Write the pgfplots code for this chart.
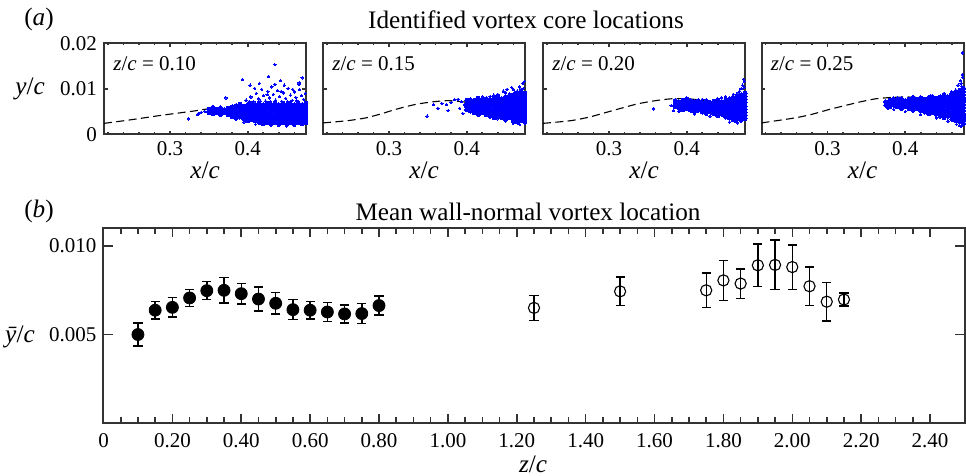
\documentclass[border=0pt]{standalone}
\usepackage{fontspec}
\setmainfont{Liberation Serif}
\usepackage{pgfplots}
\pgfplotsset{compat=1.18}
\definecolor{scat}{RGB}{0,0,255}
\pgfplotsset{
  basebox/.style={scale only axis, anchor=north west,
    axis line style={line width=1pt, black!80},
    tick align=inside, tick style={line width=0.8pt, black!80},
    /pgf/number format/assume math mode=true,
    ticklabel style={font=\fontsize{10.5}{12}\selectfont},
    scaled ticks=false},
  toppanel/.style={basebox, width=101pt, height=45.5pt,
    xmin=0.215, xmax=0.475, ymin=0, ymax=0.02,
    xtick={0.3,0.4}, xticklabels={0.3,0.4},
    minor xtick={0.22,0.24,0.26,0.28,0.32,0.34,0.36,0.38,0.42,0.44,0.46},
    ytick={0,0.01,0.02}, yticklabels={},
    major tick length=1.8pt, minor tick length=1.1pt},
  dense/.style={only marks, mark=*, mark size=1.0pt, scat, mark options={draw=scat, fill=scat, line width=0pt}},
  sparse/.style={only marks, mark=*, mark size=0.6pt, scat, mark options={draw=scat, fill=scat, line width=0pt}},
  guide/.style={black, line width=0.55pt, dash pattern=on 4pt off 2.2pt, smooth, tension=0.4},
}
\newcommand{\plab}[1]{\node[anchor=west, inner sep=0pt, font=\fontsize{10.5}{12}\selectfont] at (rel axis cs:0.045,0.78) {\textit{z}/\textit{c} = #1};}
\begin{document}
\begin{tikzpicture}
\useasboundingbox (0,0) rectangle (483pt,-238pt);
% ---------------- panel 1 ----------------
\begin{axis}[toppanel, at={(52pt,-21.65pt)}, yticklabels={0,0.01,0.02}]
\addplot[dense] coordinates {
(0.350,0.0048)(0.350,0.0055)(0.355,0.0045)(0.355,0.0052)(0.355,0.0059)
(0.360,0.0048)(0.360,0.0055)(0.365,0.0044)(0.365,0.0051)(0.365,0.0058)
(0.370,0.0047)(0.370,0.0054)(0.375,0.0043)(0.375,0.0050)(0.375,0.0057)
(0.380,0.0039)(0.380,0.0046)(0.380,0.0053)(0.380,0.0060)
(0.385,0.0035)(0.385,0.0042)(0.385,0.0049)(0.385,0.0056)(0.385,0.0063)
(0.390,0.0038)(0.390,0.0045)(0.390,0.0052)(0.390,0.0059)(0.390,0.0066)
(0.395,0.0034)(0.395,0.0041)(0.395,0.0048)(0.395,0.0055)(0.395,0.0062)
(0.400,0.0030)(0.400,0.0037)(0.400,0.0044)(0.400,0.0051)(0.400,0.0058)(0.400,0.0065)
(0.405,0.0033)(0.405,0.0040)(0.405,0.0047)(0.405,0.0054)(0.405,0.0061)(0.405,0.0068)
(0.410,0.0029)(0.410,0.0036)(0.410,0.0043)(0.410,0.0050)(0.410,0.0057)(0.410,0.0064)
(0.415,0.0026)(0.415,0.0033)(0.415,0.0040)(0.415,0.0047)(0.415,0.0054)(0.415,0.0061)(0.415,0.0068)
(0.420,0.0023)(0.420,0.0030)(0.420,0.0037)(0.420,0.0044)(0.420,0.0051)(0.420,0.0058)(0.420,0.0065)
(0.425,0.0026)(0.425,0.0033)(0.425,0.0040)(0.425,0.0047)(0.425,0.0054)(0.425,0.0061)(0.425,0.0068)
(0.430,0.0023)(0.430,0.0030)(0.430,0.0037)(0.430,0.0044)(0.430,0.0051)(0.430,0.0058)(0.430,0.0065)
(0.435,0.0026)(0.435,0.0033)(0.435,0.0040)(0.435,0.0047)(0.435,0.0054)(0.435,0.0061)(0.435,0.0068)
(0.440,0.0023)(0.440,0.0030)(0.440,0.0037)(0.440,0.0044)(0.440,0.0051)(0.440,0.0058)(0.440,0.0065)
(0.445,0.0026)(0.445,0.0033)(0.445,0.0040)(0.445,0.0047)(0.445,0.0054)(0.445,0.0061)(0.445,0.0068)
(0.450,0.0023)(0.450,0.0030)(0.450,0.0037)(0.450,0.0044)(0.450,0.0051)(0.450,0.0058)(0.450,0.0065)
(0.455,0.0026)(0.455,0.0033)(0.455,0.0040)(0.455,0.0047)(0.455,0.0054)(0.455,0.0061)(0.455,0.0068)
(0.460,0.0023)(0.460,0.0030)(0.460,0.0037)(0.460,0.0044)(0.460,0.0051)(0.460,0.0058)(0.460,0.0065)
(0.465,0.0026)(0.465,0.0033)(0.465,0.0040)(0.465,0.0047)(0.465,0.0054)(0.465,0.0061)(0.465,0.0068)
(0.470,0.0023)(0.470,0.0030)(0.470,0.0037)(0.470,0.0044)(0.470,0.0051)(0.470,0.0058)(0.470,0.0065)
(0.475,0.0026)(0.475,0.0033)(0.475,0.0040)(0.475,0.0047)(0.475,0.0054)(0.475,0.0061)(0.475,0.0068)
};
\addplot[sparse] coordinates {
(0.324,0.0034)(0.335,0.0043)(0.337,0.0046)(0.340,0.0048)(0.345,0.0050)(0.372,0.0080)
(0.398,0.0075)(0.404,0.0082)(0.408,0.0071)(0.411,0.0090)(0.414,0.0078)(0.418,0.0099)
(0.420,0.0085)(0.423,0.0073)(0.426,0.0094)(0.428,0.0080)(0.431,0.0104)(0.433,0.0088)
(0.436,0.0075)(0.438,0.0096)(0.441,0.0083)(0.444,0.0072)(0.446,0.0091)(0.449,0.0079)
(0.452,0.0101)(0.455,0.0086)(0.457,0.0074)(0.460,0.0093)(0.462,0.0081)(0.465,0.0072)
(0.467,0.0098)(0.469,0.0085)(0.472,0.0077)(0.474,0.0090)(0.403,0.0108)(0.415,0.0112)
(0.447,0.0108)(0.466,0.0109)(0.409,0.0101)(0.435,0.0110)(0.458,0.0099)(0.402,0.0072)
(0.416,0.0073)(0.429,0.0071)(0.451,0.0071)(0.463,0.0074)(0.425,0.0087)(0.443,0.0094)
(0.435,0.0153)(0.393,0.0120)(0.427,0.0127)(0.470,0.0124)(0.442,0.0118)(0.466,0.0113)
(0.430,0.0019)(0.450,0.0018)(0.460,0.0019)(0.395,0.0027)(0.410,0.0022)(0.440,0.0019)
};
\addplot[guide] coordinates {(0.215,0.0024)(0.25,0.0032)(0.29,0.0042)(0.33,0.0051)(0.345,0.0055)(0.355,0.0057)(0.365,0.0057)(0.375,0.0055)(0.40,0.0048)(0.44,0.0038)(0.475,0.0030)};
\plab{0.10}
\end{axis}
% ---------------- panel 2 ----------------
\begin{axis}[toppanel, at={(161.5pt,-21.65pt)}]
\addplot[dense] coordinates {
(0.400,0.0054)(0.400,0.0061)(0.400,0.0068)(0.400,0.0075)
(0.405,0.0051)(0.405,0.0058)(0.405,0.0065)(0.405,0.0072)
(0.410,0.0047)(0.410,0.0054)(0.410,0.0061)(0.410,0.0068)(0.410,0.0075)
(0.415,0.0044)(0.415,0.0051)(0.415,0.0058)(0.415,0.0065)(0.415,0.0072)(0.415,0.0079)
(0.420,0.0047)(0.420,0.0054)(0.420,0.0061)(0.420,0.0068)(0.420,0.0075)
(0.425,0.0043)(0.425,0.0050)(0.425,0.0057)(0.425,0.0064)(0.425,0.0071)(0.425,0.0078)
(0.430,0.0040)(0.430,0.0047)(0.430,0.0054)(0.430,0.0061)(0.430,0.0068)(0.430,0.0075)
(0.435,0.0037)(0.435,0.0044)(0.435,0.0051)(0.435,0.0058)(0.435,0.0065)(0.435,0.0072)(0.435,0.0079)
(0.440,0.0040)(0.440,0.0047)(0.440,0.0054)(0.440,0.0061)(0.440,0.0068)(0.440,0.0075)(0.440,0.0082)
(0.445,0.0036)(0.445,0.0043)(0.445,0.0050)(0.445,0.0057)(0.445,0.0064)(0.445,0.0071)(0.445,0.0078)
(0.450,0.0033)(0.450,0.0040)(0.450,0.0047)(0.450,0.0054)(0.450,0.0061)(0.450,0.0068)(0.450,0.0075)(0.450,0.0082)
(0.455,0.0036)(0.455,0.0043)(0.455,0.0050)(0.455,0.0057)(0.455,0.0064)(0.455,0.0071)(0.455,0.0078)(0.455,0.0085)
(0.460,0.0030)(0.460,0.0037)(0.460,0.0044)(0.460,0.0051)(0.460,0.0058)(0.460,0.0065)(0.460,0.0072)(0.460,0.0079)(0.460,0.0086)
(0.465,0.0027)(0.465,0.0034)(0.465,0.0041)(0.465,0.0048)(0.465,0.0055)(0.465,0.0062)(0.465,0.0069)(0.465,0.0076)(0.465,0.0083)(0.465,0.0090)
(0.470,0.0030)(0.470,0.0037)(0.470,0.0044)(0.470,0.0051)(0.470,0.0058)(0.470,0.0065)(0.470,0.0072)(0.470,0.0079)(0.470,0.0086)(0.470,0.0093)
(0.475,0.0027)(0.475,0.0034)(0.475,0.0041)(0.475,0.0048)(0.475,0.0055)(0.475,0.0062)(0.475,0.0069)(0.475,0.0076)(0.475,0.0083)(0.475,0.0090)
};
\addplot[sparse] coordinates {
(0.349,0.0040)(0.357,0.0065)(0.363,0.0057)(0.374,0.0065)(0.376,0.0052)(0.384,0.0076)
(0.389,0.0077)(0.391,0.0057)(0.395,0.0046)(0.397,0.0065)(0.380,0.0070)(0.368,0.0068)
(0.393,0.0072)(0.440,0.0088)(0.450,0.0092)(0.455,0.0089)(0.460,0.0098)(0.465,0.0095)
(0.468,0.0104)(0.472,0.0112)(0.470,0.0099)(0.462,0.0092)(0.447,0.0095)(0.435,0.0086)
(0.474,0.0116)(0.473,0.0101)(0.458,0.0103)(0.452,0.0099)(0.460,0.0024)(0.468,0.0022)
(0.450,0.0029)(0.440,0.0034)(0.405,0.0078)(0.420,0.0082)(0.430,0.0083)
};
\addplot[guide] coordinates {(0.215,0.0025)(0.247,0.0030)(0.27,0.0036)(0.29,0.0045)(0.305,0.0053)(0.32,0.0060)(0.335,0.0066)(0.346,0.0069)(0.36,0.0072)(0.376,0.0074)(0.397,0.0071)(0.41,0.0066)(0.427,0.0057)(0.45,0.0047)(0.475,0.0037)};
\plab{0.15}
\end{axis}
% ---------------- panel 3 ----------------
\begin{axis}[toppanel, at={(271.5pt,-21.65pt)}]
\addplot[dense] coordinates {
(0.385,0.0060)(0.385,0.0067)(0.385,0.0074)
(0.390,0.0057)(0.390,0.0064)(0.390,0.0071)
(0.395,0.0054)(0.395,0.0061)(0.395,0.0068)(0.395,0.0075)
(0.400,0.0057)(0.400,0.0064)(0.400,0.0071)(0.400,0.0078)
(0.405,0.0053)(0.405,0.0060)(0.405,0.0067)(0.405,0.0074)
(0.410,0.0050)(0.410,0.0057)(0.410,0.0064)(0.410,0.0071)
(0.415,0.0053)(0.415,0.0060)(0.415,0.0067)(0.415,0.0074)
(0.420,0.0049)(0.420,0.0056)(0.420,0.0063)(0.420,0.0070)
(0.425,0.0046)(0.425,0.0053)(0.425,0.0060)(0.425,0.0067)(0.425,0.0074)
(0.430,0.0049)(0.430,0.0056)(0.430,0.0063)(0.430,0.0070)
(0.435,0.0045)(0.435,0.0052)(0.435,0.0059)(0.435,0.0066)(0.435,0.0073)
(0.440,0.0041)(0.440,0.0048)(0.440,0.0055)(0.440,0.0062)(0.440,0.0069)(0.440,0.0076)
(0.445,0.0044)(0.445,0.0051)(0.445,0.0058)(0.445,0.0065)(0.445,0.0072)
(0.450,0.0040)(0.450,0.0047)(0.450,0.0054)(0.450,0.0061)(0.450,0.0068)(0.450,0.0075)
(0.455,0.0036)(0.455,0.0043)(0.455,0.0050)(0.455,0.0057)(0.455,0.0064)(0.455,0.0071)(0.455,0.0078)
(0.460,0.0032)(0.460,0.0039)(0.460,0.0046)(0.460,0.0053)(0.460,0.0060)(0.460,0.0067)(0.460,0.0074)(0.460,0.0081)
(0.465,0.0035)(0.465,0.0042)(0.465,0.0049)(0.465,0.0056)(0.465,0.0063)(0.465,0.0070)(0.465,0.0077)(0.465,0.0084)
(0.470,0.0031)(0.470,0.0038)(0.470,0.0045)(0.470,0.0052)(0.470,0.0059)(0.470,0.0066)(0.470,0.0073)(0.470,0.0080)(0.470,0.0087)
(0.475,0.0034)(0.475,0.0041)(0.475,0.0048)(0.475,0.0055)(0.475,0.0062)(0.475,0.0069)(0.475,0.0076)(0.475,0.0083)(0.475,0.0090)
};
\addplot[sparse] coordinates {
(0.357,0.0056)(0.380,0.0063)(0.383,0.0052)(0.390,0.0050)(0.410,0.0045)(0.430,0.0040)
(0.450,0.0036)(0.466,0.0091)(0.470,0.0100)(0.472,0.0108)(0.474,0.0116)(0.468,0.0095)
(0.473,0.0121)(0.460,0.0088)(0.450,0.0082)(0.455,0.0027)(0.465,0.0025)(0.470,0.0029)
(0.445,0.0080)(0.420,0.0077)(0.462,0.0029)(0.474,0.0103)
};
\addplot[guide] coordinates {(0.215,0.0024)(0.251,0.0030)(0.275,0.0038)(0.294,0.0047)(0.315,0.0057)(0.337,0.0067)(0.36,0.0074)(0.380,0.0078)(0.401,0.0078)(0.42,0.0075)(0.431,0.0071)(0.45,0.0062)(0.465,0.0054)(0.475,0.0048)};
\plab{0.20}
\end{axis}
% ---------------- panel 4 ----------------
\begin{axis}[toppanel, at={(380.75pt,-21.65pt)}]
\addplot[dense] coordinates {
(0.375,0.0064)(0.375,0.0071)
(0.380,0.0061)(0.380,0.0068)(0.380,0.0075)
(0.385,0.0064)(0.385,0.0071)(0.385,0.0078)
(0.390,0.0060)(0.390,0.0067)(0.390,0.0074)
(0.395,0.0057)(0.395,0.0064)(0.395,0.0071)(0.395,0.0078)
(0.400,0.0060)(0.400,0.0067)(0.400,0.0074)
(0.405,0.0056)(0.405,0.0063)(0.405,0.0070)(0.405,0.0077)
(0.410,0.0053)(0.410,0.0060)(0.410,0.0067)(0.410,0.0074)(0.410,0.0081)
(0.415,0.0056)(0.415,0.0063)(0.415,0.0070)(0.415,0.0077)
(0.420,0.0052)(0.420,0.0059)(0.420,0.0066)(0.420,0.0073)(0.420,0.0080)
(0.425,0.0049)(0.425,0.0056)(0.425,0.0063)(0.425,0.0070)(0.425,0.0077)
(0.430,0.0045)(0.430,0.0052)(0.430,0.0059)(0.430,0.0066)(0.430,0.0073)(0.430,0.0080)
(0.435,0.0048)(0.435,0.0055)(0.435,0.0062)(0.435,0.0069)(0.435,0.0076)(0.435,0.0083)
(0.440,0.0044)(0.440,0.0051)(0.440,0.0058)(0.440,0.0065)(0.440,0.0072)(0.440,0.0079)
(0.445,0.0040)(0.445,0.0047)(0.445,0.0054)(0.445,0.0061)(0.445,0.0068)(0.445,0.0075)(0.445,0.0082)
(0.450,0.0037)(0.450,0.0044)(0.450,0.0051)(0.450,0.0058)(0.450,0.0065)(0.450,0.0072)(0.450,0.0079)(0.450,0.0086)
(0.455,0.0040)(0.455,0.0047)(0.455,0.0054)(0.455,0.0061)(0.455,0.0068)(0.455,0.0075)(0.455,0.0082)
(0.460,0.0033)(0.460,0.0040)(0.460,0.0047)(0.460,0.0054)(0.460,0.0061)(0.460,0.0068)(0.460,0.0075)(0.460,0.0082)(0.460,0.0089)
(0.465,0.0030)(0.465,0.0037)(0.465,0.0044)(0.465,0.0051)(0.465,0.0058)(0.465,0.0065)(0.465,0.0072)(0.465,0.0079)(0.465,0.0086)(0.465,0.0093)
(0.470,0.0027)(0.470,0.0034)(0.470,0.0041)(0.470,0.0048)(0.470,0.0055)(0.470,0.0062)(0.470,0.0069)(0.470,0.0076)(0.470,0.0083)(0.470,0.0090)(0.470,0.0097)
(0.475,0.0024)(0.475,0.0031)(0.475,0.0038)(0.475,0.0045)(0.475,0.0052)(0.475,0.0059)(0.475,0.0066)(0.475,0.0073)(0.475,0.0080)(0.475,0.0087)(0.475,0.0094)(0.475,0.0101)
};
\addplot[sparse] coordinates {
(0.378,0.0057)(0.385,0.0055)(0.400,0.0050)(0.420,0.0043)(0.440,0.0036)(0.455,0.0029)
(0.466,0.0022)(0.470,0.0019)(0.473,0.0105)(0.472,0.0112)(0.474,0.0125)(0.471,0.0118)
(0.474,0.0131)(0.474,0.0179)(0.465,0.0097)(0.460,0.0093)(0.468,0.0108)(0.450,0.0090)
(0.432,0.0084)(0.390,0.0080)(0.472,0.0017)
};
\addplot[guide] coordinates {(0.215,0.0025)(0.258,0.0036)(0.28,0.0044)(0.301,0.0054)(0.322,0.0063)(0.344,0.0072)(0.362,0.0078)(0.382,0.0081)(0.40,0.0082)(0.417,0.0081)(0.43,0.0077)(0.443,0.0071)(0.46,0.0062)(0.475,0.0053)};
\plab{0.25}
\end{axis}
% ---------------- bottom panel ----------------
\begin{axis}[basebox, at={(51.75pt,-114pt)}, width=430.5pt, height=97.65pt,
  xmin=0, xmax=2.5, ymin=0, ymax=0.011,
  xtick={0,0.2,0.4,0.6,0.8,1.0,1.2,1.4,1.6,1.8,2.0,2.2,2.4},
  xticklabels={0,0.20,0.40,0.60,0.80,1.00,1.20,1.40,1.60,1.80,2.00,2.20,2.40},
  minor x tick num=3,
  ytick={0.005,0.010}, yticklabels={0.005,0.010},
  major tick length=4.6pt, minor tick length=3pt,
  xticklabel style={yshift=-1.6pt}]
\addplot[only marks, mark=*, mark size=3pt, black, mark options={fill=black},
  error bars/.cd, y dir=both, y explicit,
  error bar style={line width=0.7pt, black},
  error mark options={rotate=90, mark size=2.3pt, line width=0.7pt, black}]
  coordinates {
  (0.10,0.00500) +- (0,0.00065)
  (0.15,0.00637) +- (0,0.00050)
  (0.20,0.00653) +- (0,0.00055)
  (0.25,0.00706) +- (0,0.00047)
  (0.30,0.00747) +- (0,0.00051)
  (0.35,0.00749) +- (0,0.00072)
  (0.40,0.00730) +- (0,0.00059)
  (0.45,0.00700) +- (0,0.00067)
  (0.50,0.00676) +- (0,0.00060)
  (0.55,0.00640) +- (0,0.00057)
  (0.60,0.00637) +- (0,0.00050)
  (0.65,0.00627) +- (0,0.00053)
  (0.70,0.00616) +- (0,0.00050)
  (0.75,0.00618) +- (0,0.00056)
  (0.80,0.00663) +- (0,0.00054)
  };
\addplot[only marks, mark=o, mark size=2.8pt, black, mark options={line width=0.55pt},
  error bars/.cd, y dir=both, y explicit,
  error bar style={line width=0.7pt, black},
  error mark options={rotate=90, mark size=2.3pt, line width=0.7pt, black}]
  coordinates {
  (1.25,0.00650) +- (0,0.00070)
  (1.50,0.00743) +- (0,0.00081)
  (1.75,0.00749) +- (0,0.00098)
  (1.80,0.00805) +- (0,0.00113)
  (1.85,0.00787) +- (0,0.00083)
  (1.90,0.00890) +- (0,0.00120)
  (1.95,0.00892) +- (0,0.00140)
  (2.00,0.00880) +- (0,0.00125)
  (2.05,0.00772) +- (0,0.00108)
  (2.10,0.00685) +- (0,0.00108)
  (2.15,0.00697) +- (0,0.00037)
  };
\end{axis}
% ---------------- text ----------------
\node[font=\fontsize{12.6}{14}\selectfont] at (19.5pt,-9.8pt) {(\textit{a})};
\node[font=\fontsize{12.6}{14}\selectfont] at (263pt,-9.8pt) {Identified vortex core locations};
\node[font=\fontsize{12.6}{14}\selectfont] at (19.5pt,-105.8pt) {(\textit{b})};
\node[font=\fontsize{12.6}{14}\selectfont] at (264pt,-105.8pt) {Mean wall-normal vortex location};
\node[font=\fontsize{12.6}{14}\selectfont] at (15pt,-44.7pt) {\textit{y}/\textit{c}};
\node[font=\fontsize{12.6}{14}\selectfont] at (10pt,-168.3pt) {\textit{\=y}/\textit{c}};
\foreach \xc in {102.5,212,322,431.25} {
  \node[font=\fontsize{12.6}{14}\selectfont] at (\xc pt,-85pt) {\textit{x}/\textit{c}};
}
\node[font=\fontsize{12.6}{14}\selectfont] at (266.5pt,-232.3pt) {\textit{z}/\textit{c}};
\end{tikzpicture}
\end{document}
